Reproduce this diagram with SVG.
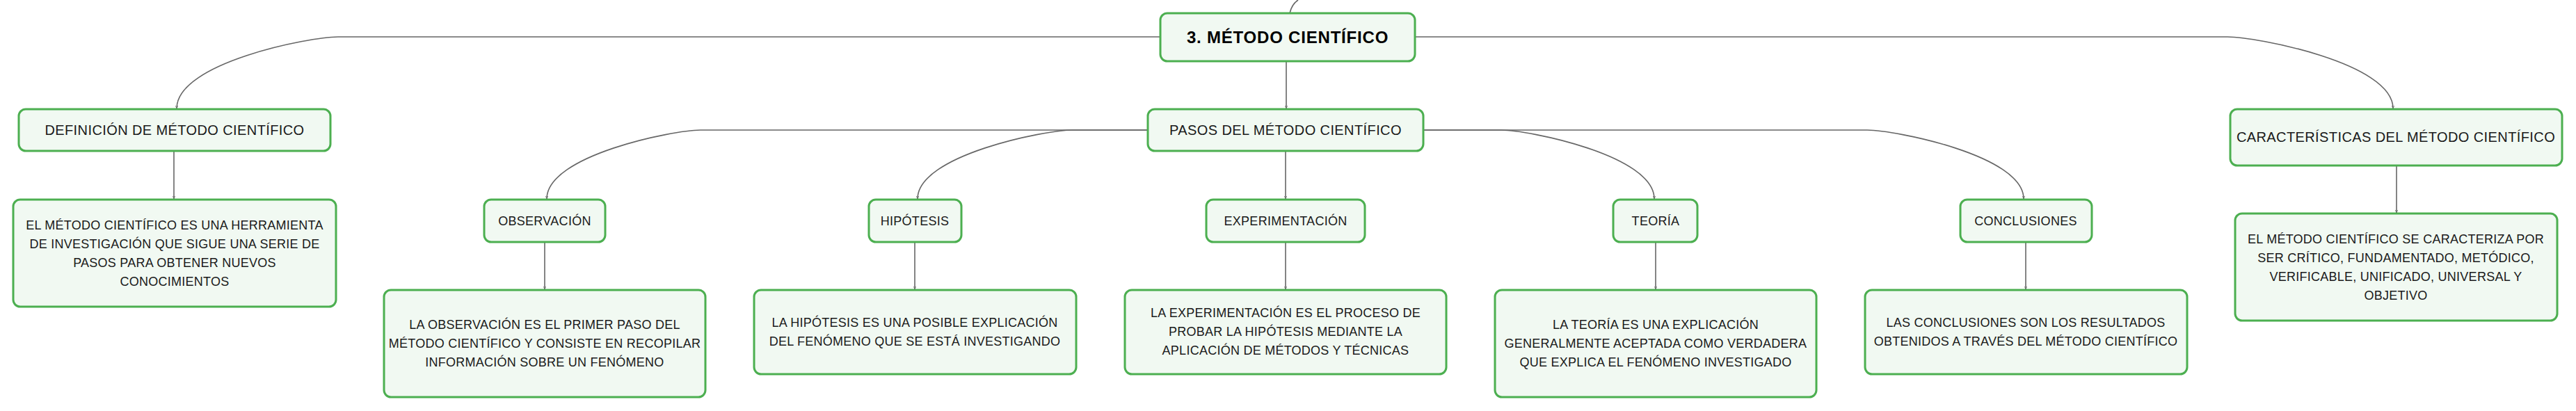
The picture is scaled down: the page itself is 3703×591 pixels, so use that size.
<svg xmlns="http://www.w3.org/2000/svg" width="3703" height="591" viewBox="0 0 3703 591">
<style>
.box{fill:#F1F9F2;stroke:#4CAF50;stroke-width:3}
.t{font-family:"Liberation Sans",Arial,sans-serif;fill:#1a1a1a;text-anchor:middle}
.title{font-size:24px;font-weight:bold;letter-spacing:0.8px;fill:#000}
.h2{font-size:20px;letter-spacing:0.4px}
.h3{font-size:18px;letter-spacing:0.3px}
.b{font-size:18px;letter-spacing:0.25px}
.c{fill:none;stroke:#666;stroke-width:1.6}
</style>
<defs>
<marker id="ah" viewBox="0 0 6 6" refX="5" refY="3" markerWidth="3" markerHeight="3" orient="auto">
<path d="M0,1 L5,3 L0,5" fill="none" stroke="#666" stroke-width="1"/>
</marker>
</defs>
<rect width="3703" height="591" fill="#fff"/>
<g id="connectors">
<path class="c" d="M1854,19 C1856,10 1860,4 1866,0"/>
<path class="c" d="M1668,53 L486,53 C446,53 254,90 254,156" marker-end="url(#ah)"/>
<path class="c" d="M2034,53 L3202,53 C3242,53 3440,90 3440,156" marker-end="url(#ah)"/>
<path class="c" d="M1849,88 L1849,156" marker-end="url(#ah)"/>
<path class="c" d="M250,217 L250,286" marker-end="url(#ah)"/>
<path class="c" d="M3445,238 L3445,306" marker-end="url(#ah)"/>
<path class="c" d="M1650,187 L1007,187 C969,187 786,223 786,286" marker-end="url(#ah)"/>
<path class="c" d="M1650,187 L1541,187 C1503,187 1319,223 1319,286" marker-end="url(#ah)"/>
<path class="c" d="M2046,187 L2158,187 C2196,187 2378,223 2378,286" marker-end="url(#ah)"/>
<path class="c" d="M2046,187 L2684,187 C2722,187 2909,223 2909,286" marker-end="url(#ah)"/>
<path class="c" d="M1848,217 L1848,286" marker-end="url(#ah)"/>
<path class="c" d="M783,348 L783,416" marker-end="url(#ah)"/>
<path class="c" d="M1315,348 L1315,416" marker-end="url(#ah)"/>
<path class="c" d="M1848,348 L1848,416" marker-end="url(#ah)"/>
<path class="c" d="M2380,348 L2380,416" marker-end="url(#ah)"/>
<path class="c" d="M2912,348 L2912,416" marker-end="url(#ah)"/>
</g>
<g id="n-title">
<rect class="box" x="1668" y="19" width="366" height="69" rx="10"/>
<text class="t title" x="1851" y="61.5">3. MÉTODO CIENTÍFICO</text>
</g>
<g id="n-definicion">
<rect class="box" x="27" y="157" width="448" height="60" rx="10"/>
<text class="t h2" x="251" y="194">DEFINICIÓN DE MÉTODO CIENTÍFICO</text>
</g>
<g id="n-definicion-body">
<rect class="box" x="19" y="287" width="464" height="154" rx="10"/>
<text class="t b" x="251" y="329.5">EL MÉTODO CIENTÍFICO ES UNA HERRAMIENTA</text>
<text class="t b" x="251" y="356.5">DE INVESTIGACIÓN QUE SIGUE UNA SERIE DE</text>
<text class="t b" x="251" y="383.5">PASOS PARA OBTENER NUEVOS</text>
<text class="t b" x="251" y="410.5">CONOCIMIENTOS</text>
</g>
<g id="n-pasos">
<rect class="box" x="1650" y="157" width="396" height="60" rx="10"/>
<text class="t h2" x="1848" y="194">PASOS DEL MÉTODO CIENTÍFICO</text>
</g>
<g id="n-caracteristicas">
<rect class="box" x="3206" y="157" width="477" height="81" rx="10"/>
<text class="t h2" x="3444" y="204">CARACTERÍSTICAS DEL MÉTODO CIENTÍFICO</text>
</g>
<g id="n-caracteristicas-body">
<rect class="box" x="3213" y="307" width="463" height="154" rx="10"/>
<text class="t b" x="3444" y="349.5">EL MÉTODO CIENTÍFICO SE CARACTERIZA POR</text>
<text class="t b" x="3444" y="376.5">SER CRÍTICO, FUNDAMENTADO, METÓDICO,</text>
<text class="t b" x="3444" y="403.5">VERIFICABLE, UNIFICADO, UNIVERSAL Y</text>
<text class="t b" x="3444" y="430.5">OBJETIVO</text>
</g>
<g id="n-observacion">
<rect class="box" x="696" y="287" width="174" height="61" rx="10"/>
<text class="t h3" x="783" y="323.5">OBSERVACIÓN</text>
</g>
<g id="n-observacion-body">
<rect class="box" x="552" y="417" width="462" height="154" rx="10"/>
<text class="t b" x="783" y="472.5">LA OBSERVACIÓN ES EL PRIMER PASO DEL</text>
<text class="t b" x="783" y="499.5">MÉTODO CIENTÍFICO Y CONSISTE EN RECOPILAR</text>
<text class="t b" x="783" y="526.5">INFORMACIÓN SOBRE UN FENÓMENO</text>
</g>
<g id="n-hipotesis">
<rect class="box" x="1249" y="287" width="133" height="61" rx="10"/>
<text class="t h3" x="1315" y="323.5">HIPÓTESIS</text>
</g>
<g id="n-hipotesis-body">
<rect class="box" x="1084" y="417" width="463" height="121" rx="10"/>
<text class="t b" x="1315" y="469.5">LA HIPÓTESIS ES UNA POSIBLE EXPLICACIÓN</text>
<text class="t b" x="1315" y="496.5">DEL FENÓMENO QUE SE ESTÁ INVESTIGANDO</text>
</g>
<g id="n-experimentacion">
<rect class="box" x="1734" y="287" width="228" height="61" rx="10"/>
<text class="t h3" x="1848" y="323.5">EXPERIMENTACIÓN</text>
</g>
<g id="n-experimentacion-body">
<rect class="box" x="1617" y="417" width="462" height="121" rx="10"/>
<text class="t b" x="1848" y="455.5">LA EXPERIMENTACIÓN ES EL PROCESO DE</text>
<text class="t b" x="1848" y="482.5">PROBAR LA HIPÓTESIS MEDIANTE LA</text>
<text class="t b" x="1848" y="509.5">APLICACIÓN DE MÉTODOS Y TÉCNICAS</text>
</g>
<g id="n-teoria">
<rect class="box" x="2319" y="287" width="121" height="61" rx="10"/>
<text class="t h3" x="2380" y="323.5">TEORÍA</text>
</g>
<g id="n-teoria-body">
<rect class="box" x="2149" y="417" width="462" height="154" rx="10"/>
<text class="t b" x="2380" y="472.5">LA TEORÍA ES UNA EXPLICACIÓN</text>
<text class="t b" x="2380" y="499.5">GENERALMENTE ACEPTADA COMO VERDADERA</text>
<text class="t b" x="2380" y="526.5">QUE EXPLICA EL FENÓMENO INVESTIGADO</text>
</g>
<g id="n-conclusiones">
<rect class="box" x="2818" y="287" width="189" height="61" rx="10"/>
<text class="t h3" x="2912" y="323.5">CONCLUSIONES</text>
</g>
<g id="n-conclusiones-body">
<rect class="box" x="2681" y="417" width="463" height="121" rx="10"/>
<text class="t b" x="2912" y="469.5">LAS CONCLUSIONES SON LOS RESULTADOS</text>
<text class="t b" x="2912" y="496.5">OBTENIDOS A TRAVÉS DEL MÉTODO CIENTÍFICO</text>
</g>
</svg>
